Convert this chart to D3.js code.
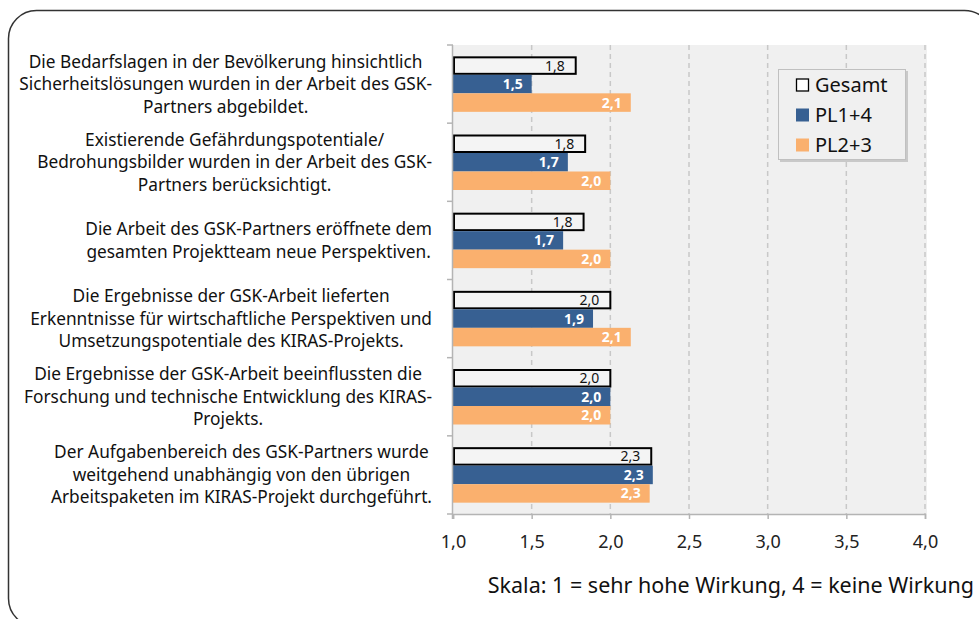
<!DOCTYPE html>
<html>
<head>
<meta charset="utf-8">
<script src="https://cdn.jsdelivr.net/npm/d3@7"></script>
<style>
  html, body { margin: 0; padding: 0; background: #ffffff; }
  svg { display: block; }
  text { font-family: "Noto Sans", "Open Sans", sans-serif; }
</style>
</head>
<body>
<svg id="chart" width="979" height="619"></svg>
<script>
// Statements (each one a list of wrapped lines)
const categories = [
  ["Die Bedarfslagen in der Bevölkerung hinsichtlich", "Sicherheitslösungen wurden in der Arbeit des GSK-", "Partners abgebildet."],
  ["Existierende Gefährdungspotentiale/", "Bedrohungsbilder wurden in der Arbeit des GSK-", "Partners berücksichtigt."],
  ["Die Arbeit des GSK-Partners eröffnete dem", "gesamten Projektteam neue Perspektiven."],
  ["Die Ergebnisse der GSK-Arbeit lieferten", "Erkenntnisse für wirtschaftliche Perspektiven und", "Umsetzungspotentiale des KIRAS-Projekts."],
  ["Die Ergebnisse der GSK-Arbeit beeinflussten die", "Forschung und technische Entwicklung des KIRAS-", "Projekts."],
  ["Der Aufgabenbereich des GSK-Partners wurde", "weitgehend unabhängig von den übrigen", "Arbeitspaketen im KIRAS-Projekt durchgeführt."]
];

// Mean ratings per group
const seriesNames = ["Gesamt", "PL1+4", "PL2+3"];
const gesamt = [1.78, 1.84, 1.83, 2.00, 2.00, 2.26];
const pl14   = [1.50, 1.73, 1.70, 1.89, 2.00, 2.27];
const pl23   = [2.13, 2.00, 2.00, 2.13, 2.00, 2.25];

const xTicks = [1.0, 1.5, 2.0, 2.5, 3.0, 3.5, 4.0];
const scaleNote = "Skala: 1 = sehr hohe Wirkung, 4 = keine Wirkung";

const seriesValues = [gesamt, pl14, pl23];
const colors = { "Gesamt": "#f4f4f4", "PL1+4": "#376092", "PL2+3": "#fab06e" };

const svg = d3.select("#chart");
const fmt = v => d3.format(".1f")(v).replace(".", ",");

// Outer rounded frame
svg.append("rect")
  .attr("x", 8.5).attr("y", 10.5)
  .attr("width", 984).attr("height", 616)
  .attr("rx", 28).attr("ry", 28)
  .attr("fill", "none").attr("stroke", "#333").attr("stroke-width", 1.5);

const plot = { left: 453, right: 925, top: 45, bottom: 514 };

const x = d3.scaleLinear().domain([1, 4]).range([plot.left, plot.right]);
const y0 = d3.scaleBand().domain(d3.range(categories.length)).range([plot.top, plot.bottom]);
const bw = y0.bandwidth();
const y1 = d3.scaleBand().domain(seriesNames).range([bw * 0.145, bw * 0.855]);

// Plot background
svg.append("rect")
  .attr("x", plot.left).attr("y", plot.top)
  .attr("width", plot.right - plot.left + 2).attr("height", plot.bottom - plot.top)
  .attr("fill", "#f0f0f0");

// Dashed vertical gridlines
svg.append("g").selectAll("line")
  .data(xTicks.slice(1))
  .join("line")
  .attr("x1", d => x(d)).attr("x2", d => x(d))
  .attr("y1", plot.top).attr("y2", plot.bottom)
  .attr("stroke", "#c8c8c8").attr("stroke-width", 1.5)
  .attr("stroke-dasharray", "5,4");

// Bars
const groups = svg.append("g").selectAll("g")
  .data(categories.map((c, i) => i))
  .join("g")
  .attr("transform", i => `translate(0,${y0(i)})`);

groups.each(function(i) {
  const g = d3.select(this);
  seriesNames.forEach((name, s) => {
    const v = seriesValues[s][i];
    const isTotal = s === 0;
    g.append("rect")
      .attr("x", x(1) + (isTotal ? 1 : 0))
      .attr("y", y1(name) + (isTotal ? 1 : 0))
      .attr("width", x(v) - x(1) - (isTotal ? 1 : 0))
      .attr("height", y1.bandwidth() - (isTotal ? 2 : 0))
      .attr("fill", colors[name])
      .attr("stroke", isTotal ? "#000" : "none")
      .attr("stroke-width", isTotal ? 2 : 0);
    g.append("text")
      .attr("x", x(v) - (isTotal ? 11 : 9))
      .attr("y", y1(name) + y1.bandwidth() / 2)
      .attr("dy", "0.36em")
      .attr("text-anchor", "end")
      .attr("font-size", 14)
      .attr("font-weight", isTotal ? 400 : 700)
      .attr("fill", isTotal ? "#111" : "#fff")
      .text(fmt(v));
  });
});

// Left axis (category boundaries)
const yAxisG = svg.append("g");
yAxisG.append("line")
  .attr("x1", plot.left - 0.5).attr("x2", plot.left - 0.5)
  .attr("y1", plot.top).attr("y2", plot.bottom + 5)
  .attr("stroke", "#b4b4b4").attr("stroke-width", 1.5);
yAxisG.selectAll("line.tick")
  .data(d3.range(categories.length + 1))
  .join("line").attr("class", "tick")
  .attr("x1", plot.left - 6).attr("x2", plot.left)
  .attr("y1", i => plot.top + i * bw).attr("y2", i => plot.top + i * bw)
  .attr("stroke", "#b4b4b4").attr("stroke-width", 1.5);

// Bottom axis
const xAxis = d3.axisBottom(x).tickValues(xTicks).tickFormat(fmt).tickSize(5).tickPadding(16);
const xg = svg.append("g").attr("transform", `translate(0,${plot.bottom})`).call(xAxis);
xg.select(".domain").attr("stroke", "#b4b4b4").attr("stroke-width", 1.5);
xg.selectAll(".tick line").attr("stroke", "#b4b4b4").attr("stroke-width", 1.5);
xg.selectAll(".tick text")
  .attr("font-family", "Noto Sans, Open Sans, sans-serif")
  .attr("font-size", 18).attr("fill", "#222");

// Category labels: each block right-aligned to the axis, lines centred within it
const labelRight = 432;
const lineH = 22.5;
const labelG = svg.append("g");
categories.forEach((lines, i) => {
  const t = labelG.append("text").attr("font-size", 17.3).attr("fill", "#111");
  const spans = lines.map(l => t.append("tspan").text(l));
  const widths = spans.map(s => s.node().getComputedTextLength());
  const blockW = d3.max(widths);
  const cx = labelRight - blockW / 2;
  const cy = y0(i) + bw / 2;
  spans.forEach((s, k) => {
    s.attr("x", cx).attr("text-anchor", "middle")
     .attr("y", cy + (k - (lines.length - 1) / 2) * lineH)
     .attr("dy", "0.35em");
  });
});

// Legend
const lg = svg.append("g").attr("transform", "translate(778,69)");
lg.append("rect").attr("x", 2).attr("y", 2).attr("width", 128).attr("height", 91).attr("fill", "#c9c9c9");
lg.append("rect").attr("x", 0.5).attr("y", 0.5).attr("width", 127).attr("height", 90)
  .attr("fill", "#f0f0f0").attr("stroke", "#c0c0c0");
seriesNames.forEach((name, s) => {
  const cy = 16 + s * 30;
  lg.append("rect")
    .attr("x", s === 0 ? 18.5 : 18).attr("y", cy - 6.5 + (s === 0 ? 0.5 : 0))
    .attr("width", s === 0 ? 12 : 13).attr("height", s === 0 ? 12 : 13)
    .attr("fill", s === 0 ? "#fff" : colors[name])
    .attr("stroke", s === 0 ? "#000" : "none").attr("stroke-width", 1.3);
  lg.append("text")
    .attr("x", 37).attr("y", cy).attr("dy", "0.36em")
    .attr("font-size", 20).attr("fill", "#111")
    .text(name);
});

// Scale note
svg.append("text")
  .attr("x", 974).attr("y", 585).attr("dy", "0.35em")
  .attr("text-anchor", "end").attr("font-size", 21.5).attr("fill", "#111")
  .text(scaleNote);
</script>
</body>
</html>
